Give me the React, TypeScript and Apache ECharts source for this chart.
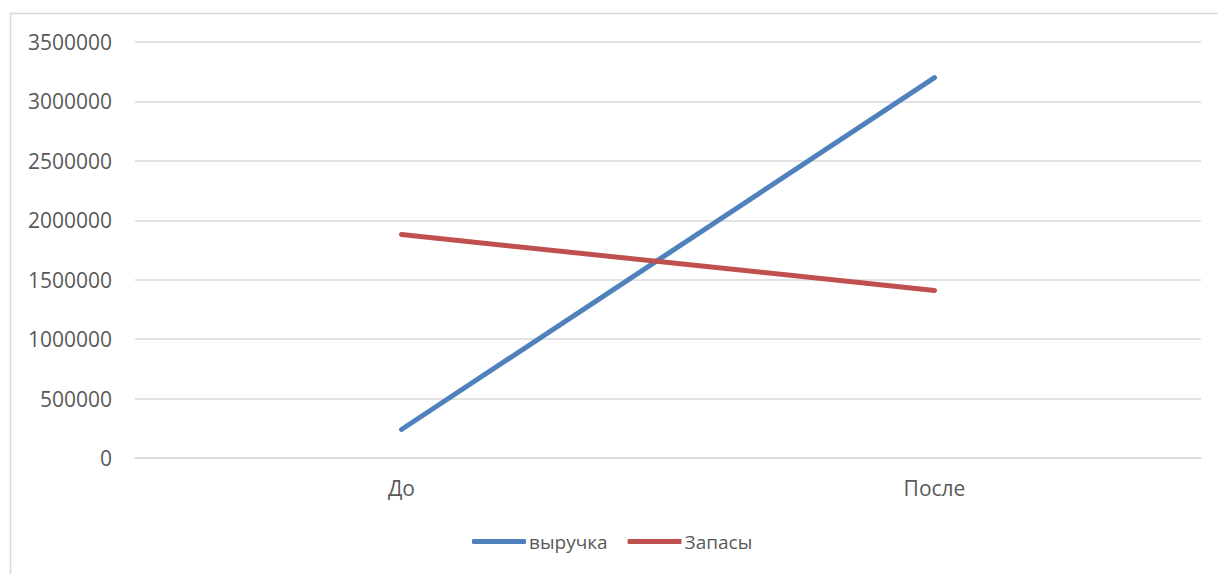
import React, { useEffect, useRef } from "react";
import * as echarts from "echarts";

// Categories and series values
const categories = ["До", "После"];
const revenue = [240000, 3200000];
const inventory = [1880000, 1410000];
const seriesNames = ["выручка", "Запасы"];
const yTicks = { min: 0, max: 3500000, interval: 500000 };

const FONT = "'Open Sans', 'Noto Sans', sans-serif";
const TEXT_COLOR = "#595959";
const GRID_COLOR = "#d9d9d9";

export default function App() {
  const ref = useRef<HTMLDivElement>(null);

  useEffect(() => {
    document.body.style.margin = "0";
    const chart = echarts.init(ref.current!, undefined, { renderer: "svg" });
    chart.setOption({
      animation: false,
      backgroundColor: "#ffffff",
      textStyle: { fontFamily: FONT },
      graphic: [
        {
          type: "rect",
          shape: { x: 10.5, y: 13.5, width: 1400, height: 800 },
          style: { fill: "none", stroke: GRID_COLOR, lineWidth: 1.5 },
          silent: true,
          z: -1,
        },
      ],
      grid: { left: 135, right: 17, top: 42, bottom: 116 },
      xAxis: {
        type: "category",
        data: categories,
        boundaryGap: true,
        axisLine: { show: true, lineStyle: { color: GRID_COLOR, width: 1.5 } },
        axisTick: { show: false },
        axisLabel: {
          color: TEXT_COLOR,
          fontSize: 21,
          fontFamily: FONT,
          margin: 19,
        },
      },
      yAxis: {
        type: "value",
        min: yTicks.min,
        max: yTicks.max,
        interval: yTicks.interval,
        axisLine: { show: false },
        axisTick: { show: false },
        splitLine: { lineStyle: { color: GRID_COLOR, width: 1.5 } },
        axisLabel: {
          color: TEXT_COLOR,
          fontSize: 21,
          fontFamily: FONT,
          margin: 23,
          formatter: (v: number) => String(v),
        },
      },
      legend: {
        data: seriesNames,
        left: 467,
        top: 527,
        icon: "roundRect",
        itemWidth: 54,
        itemHeight: 5,
        itemGap: 20,
        textStyle: {
          color: TEXT_COLOR,
          fontSize: 19,
          fontFamily: FONT,
          padding: [0, 0, 0, -2],
        },
      },
      series: [
        {
          name: seriesNames[0],
          type: "line",
          data: revenue,
          symbol: "none",
          color: "#4f81bd",
          lineStyle: { width: 5, color: "#4f81bd", cap: "round" },
        },
        {
          name: seriesNames[1],
          type: "line",
          data: inventory,
          symbol: "none",
          color: "#c0504d",
          lineStyle: { width: 5, color: "#c0504d", cap: "round" },
        },
      ],
    });
    return () => chart.dispose();
  }, []);

  return (
    <div
      ref={ref}
      style={{ position: "absolute", left: 0, top: 0, width: 1218, height: 574 }}
    />
  );
}
